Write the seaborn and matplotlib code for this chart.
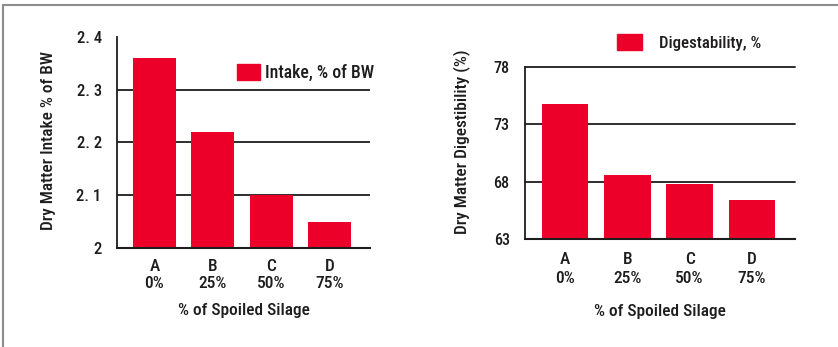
import matplotlib
matplotlib.use("Agg")
import matplotlib.pyplot as plt
from matplotlib.patches import Patch
from matplotlib.lines import Line2D
import seaborn as sns
import pandas as pd

# Data
categories = ["A", "B", "C", "D"]
spoiled_pct = ["0%", "25%", "50%", "75%"]
intake_bw = [2.36, 2.22, 2.10, 2.05]
digestibility = [74.8, 68.6, 67.8, 66.4]
intake_ticks = [2.0, 2.1, 2.2, 2.3, 2.4]
intake_tick_labels = ["2", "2. 1", "2. 2", "2. 3", "2. 4"]
dig_ticks = [63, 68, 73, 78]

RED = "#EC0029"
INK = "#1E1C1D"

sns.set_theme(style="white")
plt.rcParams["font.family"] = ["Roboto Condensed", "DejaVu Sans"]
plt.rcParams["font.weight"] = 500
plt.rcParams["text.color"] = INK
plt.rcParams["axes.labelcolor"] = INK
plt.rcParams["axes.labelweight"] = 500
plt.rcParams["xtick.color"] = INK
plt.rcParams["ytick.color"] = INK

W, H = 838, 347
fig = plt.figure(figsize=(W / 100, H / 100), dpi=100)


def px_axes(x0, y0, x1, y1):
    return fig.add_axes([x0 / W, 1 - y1 / H, (x1 - x0) / W, (y1 - y0) / H])


xlabels = [f"{c}\n{p}" for c, p in zip(categories, spoiled_pct)]
df = pd.DataFrame({"cat": xlabels, "intake": intake_bw, "dig": digestibility})


def style_axes(ax, spacing, ysize):
    for s in ["top", "right"]:
        ax.spines[s].set_visible(False)
    ax.spines["left"].set_color(INK)
    ax.spines["left"].set_linewidth(1.3)
    ax.spines["bottom"].set_color(INK)
    ax.spines["bottom"].set_linewidth(1.5)
    ax.tick_params(axis="y", length=2, width=1.3, pad=9, labelsize=ysize)
    ax.tick_params(axis="x", length=0, labelsize=12.5)
    for t in ax.get_xticklabels():
        t.set_linespacing(spacing)
    ax.set_ylabel("")


# Left panel: intake
ax1 = px_axes(117, 37, 370, 248)
sns.barplot(data=df, x="cat", y="intake", color=RED, saturation=1, width=0.74,
            ax=ax1, edgecolor="none")
ax1.set_ylim(2.0, 2.4)
ax1.set_xlim(-0.64, 3.69)
ax1.set_yticks(intake_ticks)
ax1.set_yticklabels(intake_tick_labels)
for y in intake_ticks[1:4]:
    ax1.axhline(y, color=INK, lw=1.3, zorder=0.5)
style_axes(ax1, 1.15, 12)
ax1.tick_params(axis="x", pad=8)
ax1.set_xlabel("% of Spoiled Silage", fontsize=12.5, labelpad=9)
fig.text(48 / W, 1 - 140 / H, "Dry Matter Intake % of BW", rotation=90,
         ha="center", va="center", fontsize=12.5)
ax1.legend(handles=[Patch(color=RED, label="Intake, % of BW")],
           loc="upper left", bbox_to_anchor=(237 / W, 1 - 64 / H),
           bbox_transform=fig.transFigure, frameon=False, fontsize=12.8,
           handlelength=1.3, handleheight=0.95, handletextpad=0.3,
           borderpad=0, borderaxespad=0)

# Right panel: digestibility
ax2 = px_axes(525, 67, 795, 239)
sns.barplot(data=df, x="cat", y="dig", color=RED, saturation=1, width=0.75,
            ax=ax2, edgecolor="none")
ax2.set_ylim(63, 78)
ax2.set_xlim(-0.64, 3.69)
ax2.set_yticks(dig_ticks)
for y in dig_ticks[1:]:
    ax2.axhline(y, color=INK, lw=1.3, zorder=0.5, clip_on=False)
style_axes(ax2, 1.34, 11.5)
ax2.tick_params(axis="x", pad=9)
ax2.set_xlabel("% of Spoiled Silage", fontsize=12.5, labelpad=13)
fig.text(462 / W, 1 - 142 / H, "Dry Matter Digestibility (%)", rotation=90,
         ha="center", va="center", fontsize=12.5)
ax2.legend(handles=[Patch(color=RED, label="Digestability, %")],
           loc="upper left", bbox_to_anchor=(617 / W, 1 - 34 / H),
           bbox_transform=fig.transFigure, frameon=False, fontsize=12.2,
           handlelength=1.45, handleheight=1.1, handletextpad=1.05,
           borderpad=0, borderaxespad=0)

# Thin grey frame along the top and left edges
fig.add_artist(Line2D([3 / W, 1], [1 - 5 / H, 1 - 5 / H], transform=fig.transFigure,
                      color="#8C8C8C", lw=1.5))
fig.add_artist(Line2D([3 / W, 3 / W], [0, 1 - 5 / H], transform=fig.transFigure,
                      color="#8C8C8C", lw=1.5))

fig.savefig("out.png", dpi=100)
